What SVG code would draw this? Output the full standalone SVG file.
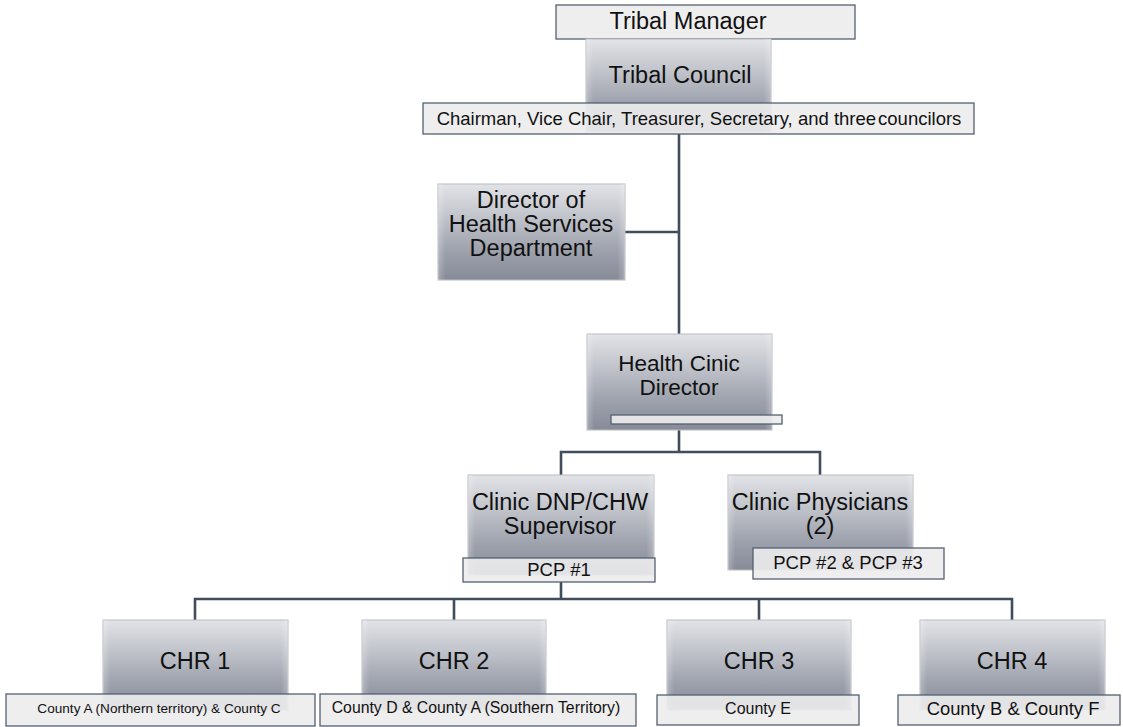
<svg xmlns="http://www.w3.org/2000/svg" width="1123" height="727" viewBox="0 0 1123 727">
  <defs>
    <linearGradient id="boxFill" x1="0" y1="0" x2="0" y2="1">
      <stop offset="0" stop-color="#e2e3e7"/>
      <stop offset="0.35" stop-color="#c0c3ca"/>
      <stop offset="0.7" stop-color="#9da1ac"/>
      <stop offset="1" stop-color="#878b98"/>
    </linearGradient>
    <linearGradient id="edgeShade" x1="0" y1="0" x2="1" y2="0">
      <stop offset="0" stop-color="#ffffff" stop-opacity="0.25"/>
      <stop offset="0.04" stop-color="#ffffff" stop-opacity="0"/>
      <stop offset="0.96" stop-color="#ffffff" stop-opacity="0"/>
      <stop offset="1" stop-color="#ffffff" stop-opacity="0.25"/>
    </linearGradient>
  </defs>
  <style>
    .box { fill: url(#boxFill); stroke: #b9bcc3; stroke-width: 1; }
    .shade { fill: url(#edgeShade); stroke: none; }
    .bar { fill: #ececed; fill-opacity: 0.9; stroke: #556070; stroke-width: 1.3; }
    .link { fill: none; stroke: #414c5d; stroke-width: 2.6; }
    text { font-family: "Liberation Sans", Arial, sans-serif; fill: #111111; text-anchor: middle; }
    .big { font-size: 23.5px; }
    .mid { font-size: 18.5px; }
  </style>
  <rect width="1123" height="727" fill="#ffffff"/>

  <!-- reporting lines -->
  <g id="connectors">
    <path class="link" d="M679 134 V334"/>
    <path class="link" d="M625 232 H679"/>
    <path class="link" d="M679 430 V452 M561 475 V452 H820 V475"/>
    <path class="link" d="M561 582 V599 M195 620 V599 H1012 V620 M454 599 V620 M759 599 V620"/>
  </g>

  <g id="tribal-manager">
    <rect class="bar" x="556" y="5" width="299" height="34"/>
    <text class="big" x="688" y="29">Tribal Manager</text>
  </g>

  <g id="tribal-council">
    <rect class="box" x="586" y="39" width="185" height="93"/>
    <rect class="shade" x="586" y="39" width="185" height="93"/>
    <text class="big" x="680" y="83">Tribal Council</text>
    <rect class="bar" x="423" y="103" width="551" height="31"/>
    <text class="mid" x="699" y="125">Chairman, Vice Chair, Treasurer, Secretary, and three<tspan dx="2">councilors</tspan></text>
  </g>

  <g id="director-health-services">
    <rect class="box" x="438" y="184" width="187" height="96"/>
    <rect class="shade" x="438" y="184" width="187" height="96"/>
    <text class="big" x="531" y="208">Director of</text>
    <text class="big" x="531" y="232">Health Services</text>
    <text class="big" x="531" y="256">Department</text>
  </g>

  <g id="health-clinic-director">
    <rect class="box" x="587" y="334" width="185" height="96"/>
    <rect class="shade" x="587" y="334" width="185" height="96"/>
    <text x="679" y="371" font-size="22.5px">Health Cinic</text>
    <text x="679" y="395" font-size="22.5px">Director</text>
    <rect class="bar" x="611" y="415" width="171" height="9"/>
  </g>

  <g id="clinic-dnp-supervisor">
    <rect class="box" x="468" y="475" width="186" height="100"/>
    <rect class="shade" x="468" y="475" width="186" height="100"/>
    <text class="big" x="560" y="510">Clinic DNP/CHW</text>
    <text class="big" x="560" y="534">Supervisor</text>
    <rect class="bar" x="463" y="558" width="192" height="24"/>
    <text class="mid" x="559" y="576">PCP #1</text>
  </g>

  <g id="clinic-physicians">
    <rect class="box" x="728" y="475" width="185" height="95"/>
    <rect class="shade" x="728" y="475" width="185" height="95"/>
    <text class="big" x="820" y="510">Clinic Physicians</text>
    <text class="big" x="820" y="534">(2)</text>
    <rect class="bar" x="753" y="548" width="191" height="31"/>
    <text class="mid" x="848" y="569">PCP #2 &amp; PCP #3</text>
  </g>

  <g id="chr-1">
    <rect class="box" x="103" y="620" width="185" height="90"/>
    <rect class="shade" x="103" y="620" width="185" height="90"/>
    <text class="big" x="195" y="669">CHR 1</text>
    <rect class="bar" x="6" y="694" width="309" height="32"/>
    <text x="159" y="713" font-size="13.6px">County A (Northern territory) &amp; County C</text>
  </g>

  <g id="chr-2">
    <rect class="box" x="362" y="620" width="184" height="90"/>
    <rect class="shade" x="362" y="620" width="184" height="90"/>
    <text class="big" x="454" y="669">CHR 2</text>
    <rect class="bar" x="320" y="694" width="316" height="32"/>
    <text x="476" y="713" font-size="15.8px">County D &amp; County A (Southern Territory)</text>
  </g>

  <g id="chr-3">
    <rect class="box" x="667" y="620" width="184" height="90"/>
    <rect class="shade" x="667" y="620" width="184" height="90"/>
    <text class="big" x="759" y="669">CHR 3</text>
    <rect class="bar" x="657" y="695" width="202" height="30"/>
    <text x="758" y="714" font-size="16px">County E</text>
  </g>

  <g id="chr-4">
    <rect class="box" x="920" y="620" width="185" height="90"/>
    <rect class="shade" x="920" y="620" width="185" height="90"/>
    <text class="big" x="1012" y="669">CHR 4</text>
    <rect class="bar" x="898" y="695" width="222" height="30"/>
    <text x="1013" y="715" font-size="18.4px">County B &amp; County F</text>
  </g>
</svg>
